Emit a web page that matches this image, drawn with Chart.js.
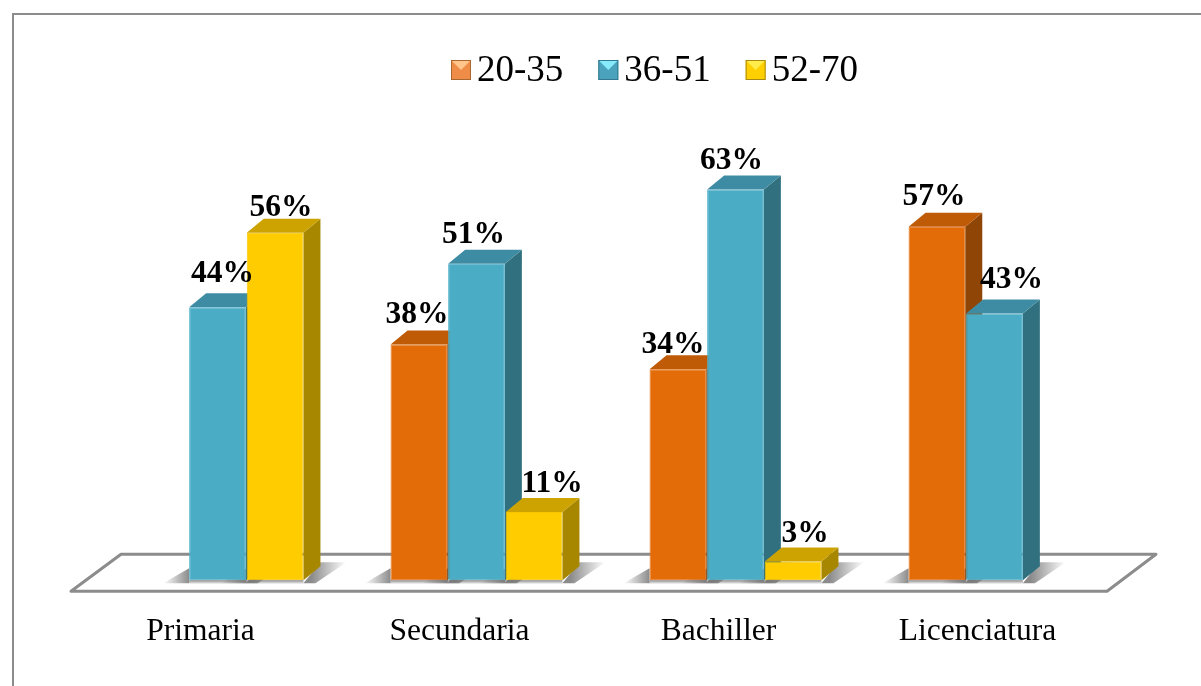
<!DOCTYPE html>
<html>
<head>
<meta charset="utf-8">
<style>
  html, body { margin: 0; padding: 0; background: #fff; overflow: hidden; }
  canvas { display: block; }
</style>
<script src="https://cdn.jsdelivr.net/npm/chart.js@4"></script>
</head>
<body>
<canvas id="edad-chart" width="1201" height="686"></canvas>
<script>
var categories = ["Primaria", "Secundaria", "Bachiller", "Licenciatura"];
var seriesNames = ["20-35", "36-51", "52-70"];
var values2035 = [null, 38, 34, 57];
var values3651 = [44, 51, 63, 43];
var values5270 = [56, 11, 3, null];

var serif = '"Liberation Serif", "Times New Roman", serif';
var depthX = 17;
var depthY = -14;

// front, top, side, legend base, legend highlight, legend edge
var palette = [
  { front: "#E36C09", top: "#BF5A07", side: "#8F4505", base: "#EE8C48", hi: "#FFC58A", edge: "#A8672F" },
  { front: "#4BACC6", top: "#3E8CA3", side: "#31707F", base: "#4AA2BC", hi: "#86EAFA", edge: "#32798F" },
  { front: "#FFCC00", top: "#CCA300", side: "#A88700", base: "#FFCF00", hi: "#FFEC4A", edge: "#A88A10" }
];

// hand placed data labels in the original, offset from the top centre of each bar
var labelNudge = [
  [null, [-2, -30], [-5, -24], [-3, -30]],
  [[5, -33], [-3, -29], [-4, -29], [17, -34]],
  [[6, -25], [18, -28], [12, -28], null]
];

function poly(ctx, pts, fill) {
  ctx.beginPath();
  ctx.moveTo(pts[0][0], pts[0][1]);
  for (var i = 1; i < pts.length; i++) ctx.lineTo(pts[i][0], pts[i][1]);
  ctx.closePath();
  ctx.fillStyle = fill;
  ctx.fill();
}

function eachBar(chart, cb) {
  // left to right so a later bar's top lands over its neighbour's side
  for (var c = 0; c < categories.length; c++) {
    for (var d = 0; d < chart.data.datasets.length; d++) {
      if (chart.data.datasets[d].data[c] === null) continue;
      cb(chart.getDatasetMeta(d).data[c], d, c);
    }
  }
}

var framePlugin = {
  id: "frame",
  beforeDraw: function (chart) {
    var ctx = chart.ctx;
    ctx.save();
    ctx.strokeStyle = "#8C8C8C";
    ctx.lineWidth = 2;
    ctx.strokeRect(13, 14, 1400, 900);
    ctx.restore();
  }
};

var floorPlugin = {
  id: "floor",
  beforeDatasetsDraw: function (chart) {
    var ctx = chart.ctx;
    var x = chart.scales.x;
    var base = chart.scales.y.getPixelForValue(0);
    ctx.save();
    ctx.strokeStyle = "#8C8C8C";
    ctx.lineWidth = 3;
    ctx.lineJoin = "round";
    ctx.beginPath();
    ctx.moveTo(x.left - 17, base + 11);
    ctx.lineTo(x.left + 33, base - 26);
    ctx.lineTo(x.right + 32, base - 26);
    ctx.lineTo(x.right - 17, base + 11);
    ctx.closePath();
    ctx.stroke();

    // soft shadows on the floor
    eachBar(chart, function (bar) {
      var l = bar.x - bar.width / 2;
      var r = bar.x + bar.width / 2;
      var g = ctx.createLinearGradient(l - 26, 0, l, 0);
      g.addColorStop(0, "rgba(110,110,110,0)");
      g.addColorStop(1, "rgba(110,110,110,0.8)");
      poly(ctx, [[l, bar.base - 12], [l, bar.base + 3], [l - 26, bar.base + 3]], g);
      var g2 = ctx.createLinearGradient(r + 8, 0, r + 43, 0);
      g2.addColorStop(0, "rgba(110,110,110,0.8)");
      g2.addColorStop(1, "rgba(110,110,110,0)");
      poly(ctx, [[r, bar.base + 3], [r + depthX, bar.base - 18], [r + 43, bar.base - 18], [r + 12, bar.base + 3]], g2);
      var g3 = ctx.createLinearGradient(0, bar.base, 0, bar.base + 4);
      g3.addColorStop(0, "rgba(110,110,110,0.8)");
      g3.addColorStop(1, "rgba(110,110,110,0)");
      ctx.fillStyle = g3;
      ctx.fillRect(l, bar.base, r - l, 4);
    });

    // side and top faces
    eachBar(chart, function (bar, d) {
      var l = bar.x - bar.width / 2;
      var r = bar.x + bar.width / 2;
      var p = palette[d];
      poly(ctx, [[r, bar.y], [r + depthX, bar.y + depthY], [r + depthX, bar.base + depthY], [r, bar.base]], p.side);
      poly(ctx, [[l, bar.y], [l + depthX, bar.y + depthY], [r + depthX, bar.y + depthY], [r, bar.y]], p.top);
    });
    ctx.restore();
  }
};

var labelPlugin = {
  id: "valueLabels",
  afterDatasetsDraw: function (chart) {
    var ctx = chart.ctx;
    ctx.save();
    ctx.fillStyle = "#000";
    ctx.font = "bold 31.5px " + serif;
    ctx.textAlign = "center";
    ctx.textBaseline = "middle";
    eachBar(chart, function (bar, d, c) {
      var n = labelNudge[d][c];
      ctx.fillText(chart.data.datasets[d].data[c] + "%", bar.x + n[0], bar.y + n[1]);
    });
    ctx.restore();
  }
};

var legendPlugin = {
  id: "bevelLegend",
  afterDraw: function (chart) {
    var ctx = chart.ctx;
    var x = 451;
    var y = 60;
    var s = 20;
    ctx.save();
    ctx.font = "37px " + serif;
    ctx.textBaseline = "middle";
    chart.data.datasets.forEach(function (ds, d) {
      var p = palette[d];
      ctx.fillStyle = p.base;
      ctx.fillRect(x, y, s, s);
      poly(ctx, [[x, y], [x + s, y], [x + s - 3, y + 3], [x + s / 2, y + s / 2], [x + 3, y + 3]], p.hi);
      ctx.strokeStyle = p.edge;
      ctx.lineWidth = 1;
      ctx.strokeRect(x + 0.5, y + 0.5, s - 1, s - 1);
      ctx.fillStyle = "#000";
      ctx.fillText(ds.label, x + s + 6, y + s / 2 + 1);
      x += s + 6 + ctx.measureText(ds.label).width + 35;
    });
    ctx.restore();
  }
};

var ctx = document.getElementById("edad-chart").getContext("2d");
new Chart(ctx, {
  type: "bar",
  data: {
    labels: categories,
    datasets: [
      { label: seriesNames[0], data: values2035, backgroundColor: palette[0].front, borderColor: "#E5731A" },
      { label: seriesNames[1], data: values3651, backgroundColor: palette[1].front, borderColor: "#50B0CA" },
      { label: seriesNames[2], data: values5270, backgroundColor: palette[2].front, borderColor: "#F6C400" }
    ]
  },
  options: {
    responsive: false,
    animation: false,
    layout: { padding: { left: 88, right: 77, top: 84, bottom: 10 } },
    datasets: {
      bar: {
        categoryPercentage: 0.667,
        barPercentage: 0.985,
        borderWidth: 1,
        borderRadius: 1,
        borderSkipped: false
      }
    },
    plugins: {
      legend: { display: false },
      tooltip: { enabled: false }
    },
    scales: {
      x: {
        grid: { display: false },
        border: { display: false },
        ticks: {
          color: "#000",
          padding: 25,
          labelOffset: -17,
          maxRotation: 0,
          autoSkip: false,
          font: { family: serif, size: 31.5 }
        }
      },
      y: { display: false, min: 0, max: 80 }
    }
  },
  plugins: [framePlugin, floorPlugin, labelPlugin, legendPlugin]
});
</script>
</body>
</html>
